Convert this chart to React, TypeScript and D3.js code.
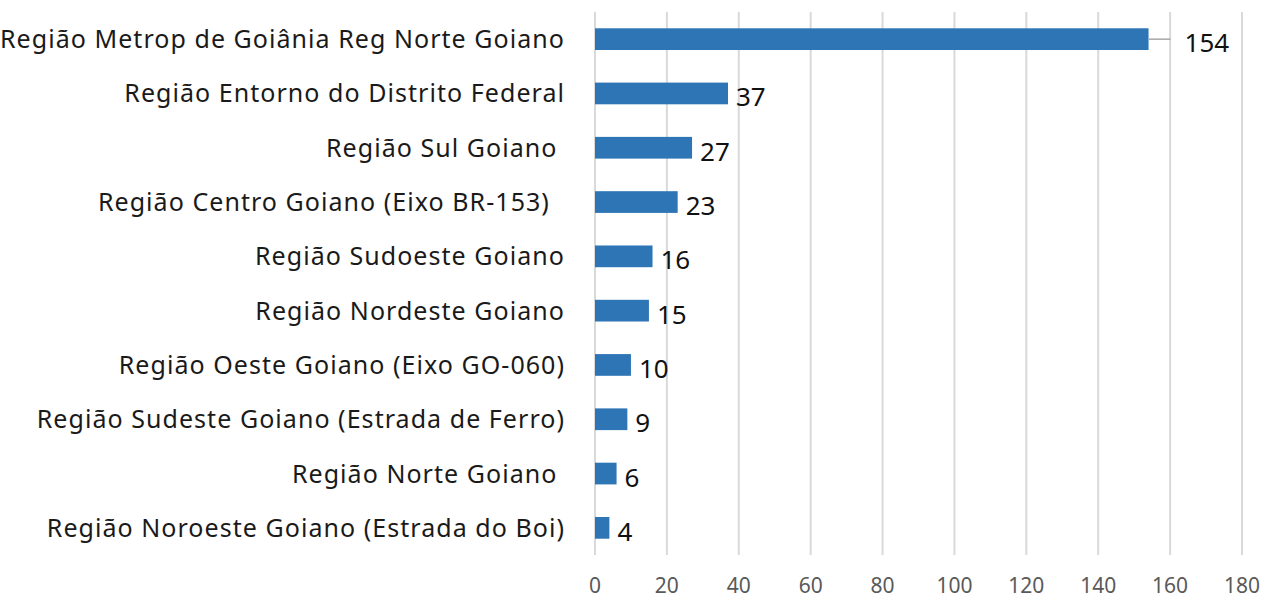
import * as d3 from "d3";

const categories = [
  "Região Metrop de Goiânia Reg Norte Goiano",
  "Região Entorno do Distrito Federal",
  "Região Sul Goiano ",
  "Região Centro Goiano (Eixo BR-153)  ",
  "Região Sudoeste Goiano",
  "Região Nordeste Goiano",
  "Região Oeste Goiano (Eixo GO-060)",
  "Região Sudeste Goiano (Estrada de Ferro)",
  "Região Norte Goiano ",
  "Região Noroeste Goiano (Estrada do Boi)",
];
const values = [154, 37, 27, 23, 16, 15, 10, 9, 6, 4];
const xTicks = [0, 20, 40, 60, 80, 100, 120, 140, 160, 180];

const W = 1273;
const H = 602;
const font = "'Noto Sans', 'Open Sans', sans-serif";

export default function App() {
  const x = d3.scaleLinear().domain([0, 180]).range([595, 1242]);
  const y = d3
    .scaleBand<string>()
    .domain(categories)
    .range([12, 555])
    .paddingInner(0.6)
    .paddingOuter(0.3);

  return (
    <svg
      width={W}
      height={H}
      style={{ position: "absolute", left: 0, top: 0, background: "#fff" }}
    >
      {/* gridlines */}
      {xTicks.map((t) => (
        <line
          key={t}
          x1={x(t)}
          x2={x(t)}
          y1={12}
          y2={555}
          stroke="#d9d9d9"
          strokeWidth={2}
        />
      ))}
      {xTicks.map((t) => (
        <text
          key={"t" + t}
          x={x(t)}
          y={593}
          textAnchor="middle"
          fontFamily={font}
          fontSize={21}
          fill="#595959"
        >
          {t}
        </text>
      ))}
      {categories.map((c, i) => {
        const cy = (y(c) ?? 0) + y.bandwidth() / 2;
        const v = values[i];
        const far = v > 100;
        return (
          <g key={c}>
            <text
              x={565}
              y={cy + 9}
              textAnchor="end"
              fontFamily={font}
              fontSize={25}
              letterSpacing={1.05}
              fill="#1a1a1a"
              style={{ whiteSpace: "pre" }}
            >
              {c}
            </text>
            <rect
              x={x(0)}
              y={y(c)}
              width={x(v) - x(0)}
              height={y.bandwidth()}
              fill="#2E75B6"
            />
            {far && (
              <line
                x1={x(v)}
                x2={x(v) + 22}
                y1={cy}
                y2={cy}
                stroke="#a6a6a6"
                strokeWidth={1.5}
              />
            )}
            <text
              x={x(v) + (far ? 36 : 8)}
              y={cy + 13}
              fontFamily={font}
              fontSize={26}
              fill="#111"
            >
              {v}
            </text>
          </g>
        );
      })}
    </svg>
  );
}
